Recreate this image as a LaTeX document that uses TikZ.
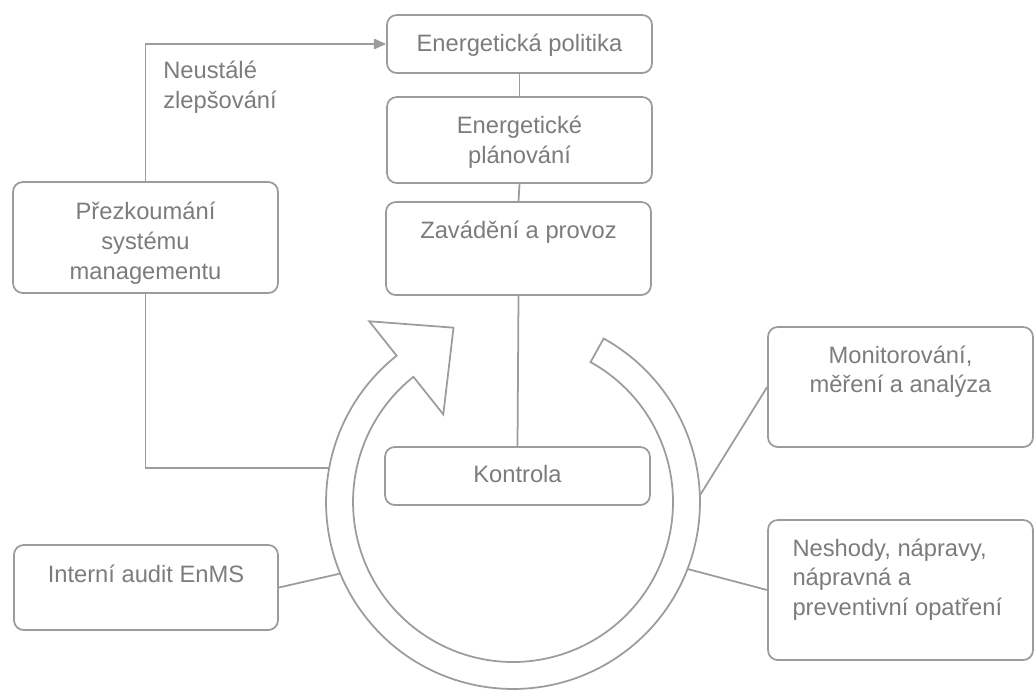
\documentclass[tikz,border=0pt]{standalone}
\usepackage{fontspec}
\setmainfont{Liberation Sans}
\usetikzlibrary{calc,arrows.meta}
\definecolor{lc}{HTML}{9C9C9C}
\definecolor{tc}{HTML}{7C7C7C}
\newcommand{\fstrut}{\rule{0pt}{14pt}}
\begin{document}
\begin{tikzpicture}[x=0.02cm,y=0.02cm,
  box/.style={draw=lc, line width=1pt, rounded corners=5.5pt, fill=white, inner sep=0pt, minimum width=5.3cm},
  txt/.style={text=tc, font=\fontsize{13.5}{17}\selectfont, inner sep=0pt, align=center},
  txtl/.style={text=tc, font=\fontsize{13.5}{17}\selectfont, inner sep=0pt, align=left},
  conn/.style={draw=lc, line width=1pt},
  ring/.style={draw=lc, line width=1pt, fill=white, line join=miter}]
\useasboundingbox (0,0) rectangle (1035,-691);

% ring with arrow
\coordinate (c) at (513,-502);
\draw[ring] ($(c)+(128.5:3.74cm)$) arc[start angle=128.5,end angle=421,radius=3.74cm]
  -- ($(c)+(421:3.2cm)$) arc[start angle=421,end angle=128.5,radius=3.2cm]
  -- ($(c)+(128.5:2.24cm)$) -- ($(c)+(128.5:3.47cm)+(38.5:1.24cm)$)
  -- ($(c)+(128.5:4.62cm)$) -- cycle;
\coordinate (r1) at ($(c)+(169.5:3.74cm)$);
\coordinate (r2) at ($(c)+(202.5:3.74cm)$);
\coordinate (r3) at ($(c)+(2:3.74cm)$);
\coordinate (r4) at ($(c)+(-21:3.74cm)$);

% boxes
\node[box, minimum height=1.16cm] (pol) at (519.5,-44) {};
\node[box, minimum height=1.72cm] (plan) at (519.5,-140) {};
\node[box, minimum height=1.86cm] (zav) at (518.5,-248.5) {};
\node[box, minimum height=1.16cm] (kon) at (517.5,-476) {};
\node[box, minimum height=2.22cm] (pre) at (145.5,-237.5) {};
\node[box, minimum height=1.70cm, minimum width=5.28cm] (aud) at (146,-587.5) {};
\node[box, minimum height=2.40cm] (mon) at (900.5,-387) {};
\node[box, minimum height=2.80cm] (nes) at (900.5,-590) {};

% texts
\node[txt, anchor=north] (tpol) at ([yshift=-0.25cm]pol.north) {\fstrut Energetická politika};
\node[txt, anchor=north] (tplan) at ([yshift=-0.25cm]plan.north) {\fstrut Energetické\\plánování};
\node[txt, anchor=north] (tzav) at ([yshift=-0.25cm]zav.north) {\fstrut Zavádění a provoz};
\node[txt, anchor=north] (tkon) at ([yshift=-0.22cm]kon.north) {\fstrut Kontrola};
\node[txt, anchor=north] (tpre) at ([yshift=-0.27cm]pre.north) {\fstrut Přezkoumání\\systému\\managementu};
\node[txt, anchor=north] (taud) at ([yshift=-0.26cm]aud.north) {\fstrut Interní audit EnMS};
\node[txt, anchor=north] (tmon) at ([yshift=-0.24cm]mon.north) {\fstrut Monitorování,\\měření a analýza};
\node[txtl, anchor=north west] (tnes) at ([xshift=0.5cm,yshift=-0.24cm]nes.north west) {\fstrut Neshody, nápravy,\\nápravná a\\preventivní opatření};
\node[txtl, anchor=north west] (tneu) at (163,-54) {\fstrut Neustálé\\zlepšování};

% connectors
\draw[conn] (pol.south) -- (plan.north);
\draw[conn] (plan.south) -- (zav.north);
\draw[conn] (zav.south) -- (kon.north);
\draw[conn, -{Triangle[length=7pt,width=6pt]}] (pre.north) |- (pol.west);
\draw[conn] (pre.south) |- (r1);
\draw[conn] (aud.east) -- (r2);
\draw[conn] (mon.west) -- (r3);
\draw[conn] (nes.west) -- (r4);
\end{tikzpicture}
\end{document}
